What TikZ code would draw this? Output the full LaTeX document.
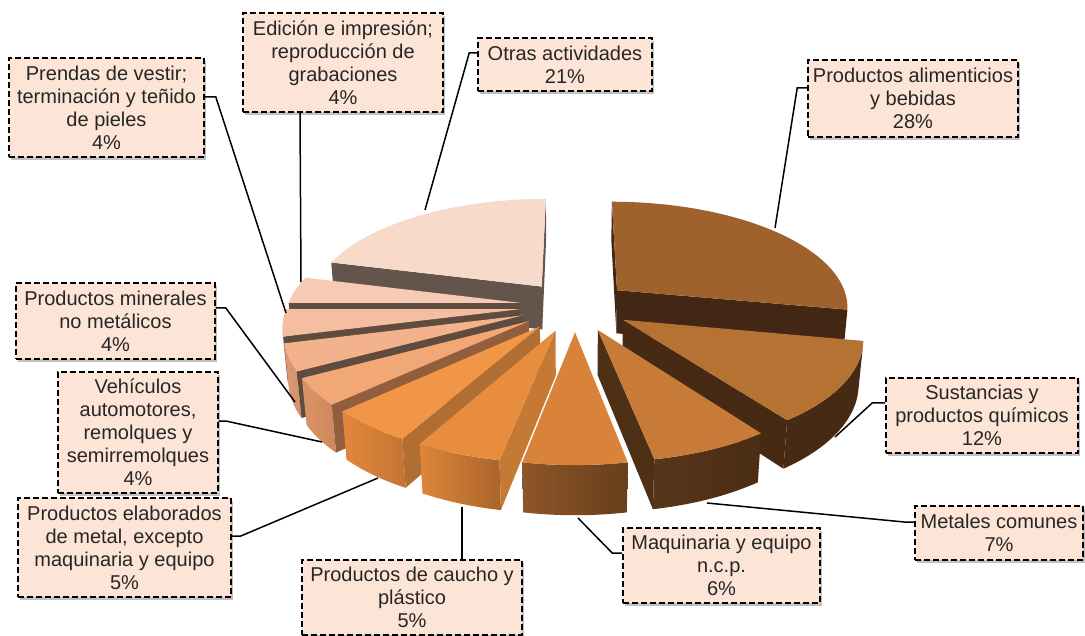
\documentclass[tikz,border=0pt]{standalone}
\usepackage{fontspec}
\setmainfont{Liberation Sans}
\usetikzlibrary{shadows}
\definecolor{boxfill}{RGB}{252,229,214}
% top faces
\definecolor{cAli}{RGB}{160,98,45}
\definecolor{cSus}{RGB}{181,114,50}
\definecolor{cMet}{RGB}{200,122,56}
\definecolor{cMaq}{RGB}{216,130,58}
\definecolor{cCau}{RGB}{232,140,62}
\definecolor{cEla}{RGB}{240,150,70}
\definecolor{cVeh}{RGB}{242,168,118}
\definecolor{cMin}{RGB}{243,178,140}
\definecolor{cPre}{RGB}{245,190,160}
\definecolor{cEdi}{RGB}{246,202,180}
\definecolor{cOtr}{RGB}{247,218,201}
% walls
\definecolor{wOtr}{RGB}{99,85,75}
\definecolor{wLft}{RGB}{96,76,63}
\definecolor{wVeh}{RGB}{146,94,62}
\definecolor{wEla}{RGB}{176,110,50}
\definecolor{wCau}{RGB}{196,122,52}
\definecolor{wMet}{RGB}{78,48,22}
\definecolor{wSus}{RGB}{70,42,20}
\definecolor{wAli}{RGB}{66,40,20}
\newcommand\setoff[1]{\pgfmathsetmacro\ox{0.24*cos(#1)}\pgfmathsetmacro\oy{0.24*sin(#1)}}
\def\hh{0.215}
\newcommand\topface[3]{\fill[#3] ({px(\ox,\oy,0)},{py(\ox,\oy,0)}) -- plot[domain=0:1,samples=40]
  ({px(\ox+cos((#1)+((#2)-(#1))*\x),\oy+sin((#1)+((#2)-(#1))*\x),0)},{py(\ox+cos((#1)+((#2)-(#1))*\x),\oy+sin((#1)+((#2)-(#1))*\x),0)}) -- cycle;}
\newcommand\radwall[2]{\fill[#2] ({px(\ox,\oy,0)},{py(\ox,\oy,0)}) -- ({px(\ox+cos(#1),\oy+sin(#1),0)},{py(\ox+cos(#1),\oy+sin(#1),0)})
  -- ({px(\ox+cos(#1),\oy+sin(#1),-\hh)},{py(\ox+cos(#1),\oy+sin(#1),-\hh)}) -- ({px(\ox,\oy,-\hh)},{py(\ox,\oy,-\hh)}) -- cycle;}
\newcommand\outwall[3]{\path[#3] plot[domain=0:1,samples=30]
  ({px(\ox+cos((#1)+((#2)-(#1))*\x),\oy+sin((#1)+((#2)-(#1))*\x),0)},{py(\ox+cos((#1)+((#2)-(#1))*\x),\oy+sin((#1)+((#2)-(#1))*\x),0)})
  -- plot[domain=0:1,samples=30]
  ({px(\ox+cos((#2)+((#1)-(#2))*\x),\oy+sin((#2)+((#1)-(#2))*\x),-\hh)},{py(\ox+cos((#2)+((#1)-(#2))*\x),\oy+sin((#2)+((#1)-(#2))*\x),-\hh)}) -- cycle;}
\begin{document}
\begin{tikzpicture}[x=1pt,y=-1pt,
  declare function={dep(\yq,\zq)=6.2+0.891*\yq-0.454*\zq;
    px(\xq,\yq,\zq)=575+1440*\xq/dep(\yq,\zq);
    py(\xq,\yq,\zq)=306-1440*(0.454*\yq+0.891*\zq)/dep(\yq,\zq);},
  lbl/.style={draw=black, dash pattern=on 6pt off 3pt, line width=1.6pt, fill=boxfill,
    text=black!85, align=center, inner sep=0pt, font=\fontsize{20}{23}\selectfont,
    drop shadow={shadow xshift=2pt,shadow yshift=-3pt,opacity=0.35,fill=black!70}},
  lead/.style={draw=black, line width=1.5pt}]
\useasboundingbox (0,0) rectangle (1085,636);
% ---- pie slices, back to front ----
% Otras actividades
\setoff{127.8}
\radwall{90}{wOtr}
\radwall{165.6}{wOtr}
\topface{90}{165.6}{cOtr}
% Productos alimenticios
\setoff{39.6}
\radwall{90}{wAli}
\radwall{-10.8}{wAli}
\topface{-10.8}{90}{cAli}
% Edicion
\setoff{172.8}
\radwall{180}{wLft}
\topface{165.6}{180}{cEdi}
% Prendas
\setoff{-172.8}
\outwall{-167}{-165.6}{fill={rgb,255:red,220;green,160;blue,130}}
\radwall{-165.6}{wLft}
\topface{-180}{-165.6}{cPre}
% Minerales
\setoff{-158.4}
\outwall{-165.6}{-151.2}{left color={rgb,255:red,218;green,155;blue,120},right color={rgb,255:red,210;green,145;blue,108}}
\radwall{-151.2}{wLft}
\topface{-165.6}{-151.2}{cMin}
% Sustancias
\setoff{-32.4}
\outwall{-54}{-13}{fill=wSus}
\radwall{-54}{wSus}
\topface{-54}{-10.8}{cSus}
% Vehiculos
\setoff{-144}
\outwall{-151.2}{-136.8}{left color={rgb,255:red,218;green,148;blue,102},right color={rgb,255:red,205;green,135;blue,92}}
\radwall{-136.8}{wVeh}
\topface{-151.2}{-136.8}{cVeh}
% Metales
\setoff{-66.6}
\outwall{-79.2}{-54}{left color={rgb,255:red,88;green,54;blue,26},right color={rgb,255:red,74;green,45;blue,21}}
\radwall{-79.2}{wMet}
\topface{-79.2}{-54}{cMet}
% Elaborados
\setoff{-127.8}
\outwall{-136.8}{-118.8}{left color={rgb,255:red,226;green,136;blue,60},right color={rgb,255:red,196;green,116;blue,50}}
\radwall{-118.8}{wEla}
\topface{-136.8}{-118.8}{cEla}
% Caucho
\setoff{-109.8}
\outwall{-118.8}{-100.8}{left color={rgb,255:red,222;green,134;blue,58},right color={rgb,255:red,170;green,100;blue,42}}
\radwall{-100.8}{wCau}
\topface{-118.8}{-100.8}{cCau}
% Maquinaria
\setoff{-90}
\outwall{-100.8}{-79.2}{left color={rgb,255:red,142;green,86;blue,40},right color={rgb,255:red,104;green,62;blue,28}}
\topface{-100.8}{-79.2}{cMaq}
% ---- leader end points ----
\coordinate (pPr) at (286,313);
\coordinate (pEd) at (301,282);
\coordinate (pOt) at (425,210);
\coordinate (pAl) at (775,228);
\coordinate (pMi) at (295,402);
\coordinate (pVe) at (322,442);
\coordinate (pEl) at (378,478);
\coordinate (pCa) at (462,507);
\coordinate (pMa) at (578,518);
\coordinate (pMe) at (707,503);
\coordinate (pSu) at (835,437);
% ---- labels ----
\node[lbl, minimum width=195pt, minimum height=99pt] (pre) at (106.5,107.5) {Prendas de vestir;\\terminación y teñido\\de pieles\\4\%};
\node[lbl, minimum width=200pt, minimum height=99pt] (edi) at (343,62.5) {Edición e impresión;\\reproducción de\\grabaciones\\4\%};
\node[lbl, minimum width=174pt, minimum height=53pt] (otr) at (565,64.5) {Otras actividades\\21\%};
\node[lbl, minimum width=210pt, minimum height=77pt] (ali) at (913,98.5) {Productos alimenticios\\y bebidas\\28\%};
\node[lbl, minimum width=199pt, minimum height=76pt] (min) at (115.5,321) {Productos minerales\\no metálicos\\4\%};
\node[lbl, minimum width=160pt, minimum height=121pt] (veh) at (138,432.5) {Vehículos\\automotores,\\remolques y\\semirremolques\\4\%};
\node[lbl, minimum width=213pt, minimum height=99pt] (ela) at (124.5,547.5) {Productos elaborados\\de metal, excepto\\maquinaria y equipo\\5\%};
\node[lbl, minimum width=220pt, minimum height=75pt] (cau) at (412,597.5) {Productos de caucho y\\plástico\\5\%};
\node[lbl, minimum width=197pt, minimum height=75pt] (maq) at (721.5,565.5) {Maquinaria y equipo\\n.c.p.\\6\%};
\node[lbl, minimum width=168pt, minimum height=54pt] (met) at (999,533) {Metales comunes\\7\%};
\node[lbl, minimum width=192pt, minimum height=75pt] (sus) at (982,415.5) {Sustancias y\\productos químicos\\12\%};
% ---- leaders ----
\draw[lead] ([yshift=10.5pt]pre.east) -- ++(11,0) -- (pPr);
\draw[lead] ([xshift=-43pt]edi.south) -- (pEd);
\draw[lead] ([yshift=11.5pt]otr.west) -- ++(-8,0) -- (pOt);
\draw[lead] ([yshift=10.5pt]ali.west) -- ++(-10,0) -- (pAl);
\draw[lead] ([yshift=13pt]min.east) -- ++(10,0) -- (pMi);
\draw[lead] ([yshift=11.5pt]veh.east) -- ++(7,0) -- (pVe);
\draw[lead] ([yshift=11.5pt]ela.east) -- ++(9,0) -- (pEl);
\draw[lead] ([xshift=50pt]cau.north) -- (pCa);
\draw[lead] ([yshift=12.5pt]maq.west) -- ++(-10,0) -- (pMa);
\draw[lead] ([yshift=11pt]met.west) -- ++(-10,0) -- (pMe);
\draw[lead] ([yshift=12.5pt]sus.west) -- ++(-13,0) -- (pSu);
\end{tikzpicture}
\end{document}
